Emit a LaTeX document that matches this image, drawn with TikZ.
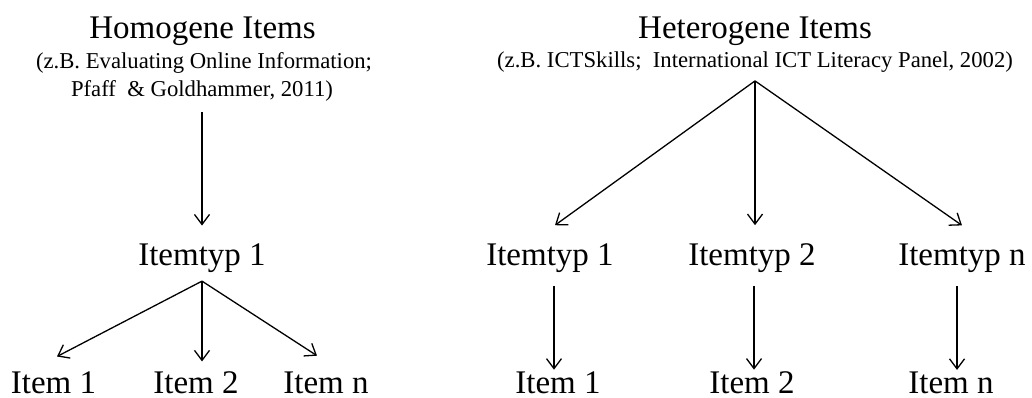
\documentclass[tikz,border=0pt]{standalone}
\usepackage{fontspec}
\setmainfont{Liberation Serif}
\usetikzlibrary{arrows.meta}
\tikzset{
  big/.style={inner sep=0pt, outer sep=0pt, anchor=base, font=\fontsize{33}{38}\selectfont},
  small/.style={inner sep=0pt, outer sep=0pt, anchor=base, font=\fontsize{22.7}{26}\selectfont},
  arr/.style={line width=1.3pt, -{Straight Barb[length=10pt,width=15pt,line width=1.3pt]}},
}
\begin{document}
\begin{tikzpicture}[x=1pt,y=-1pt]
\useasboundingbox (0,0) rectangle (1032,398);
% Homogene side
\node[big]   (htitle) at (202.5,39) {Homogene Items};
\node[small] (hsub1)  at (204,69)   {(z.B. Evaluating Online Information;};
\node[small] (hsub2)  at (202,97)   {Pfaff\ \ \& Goldhammer, 2011)};
\node[big]   (ht1)    at (202,265)  {Itemtyp 1};
\node[big]   (hi1)    at (53.5,393) {Item 1};
\node[big]   (hi2)    at (196,393)  {Item 2};
\node[big]   (hin)    at (326,393)  {Item n};
\coordinate (hapex) at ([yshift=-9pt]ht1.south);
\draw[arr] ([yshift=-10pt]hsub2.south) -- ([yshift=17.7pt]ht1.north);
\draw[arr] (hapex) -- ([xshift=3.5pt,yshift=14.7pt]hi1.north);
\draw[arr] (hapex) -- ([xshift=6pt,yshift=9.7pt]hi2.north);
\draw[arr] (hapex) -- ([xshift=-9pt,yshift=15.7pt]hin.north);
% Heterogene side
\node[big]   (etitle) at (755,39)   {Heterogene Items};
\node[small] (esub)   at (755,68)   {(z.B. ICTSkills;\ \ International ICT Literacy Panel, 2002)};
\node[big]   (et1)    at (550,265)  {Itemtyp 1};
\node[big]   (et2)    at (752,265)  {Itemtyp 2};
\node[big]   (etn)    at (962,265)  {Itemtyp n};
\node[big]   (ei1)    at (558,393)  {Item 1};
\node[big]   (ei2)    at (752,393)  {Item 2};
\node[big]   (ein)    at (951,393)  {Item n};
\coordinate (eapex) at ([yshift=-8pt]esub.south);
\draw[arr] (eapex) -- ([xshift=5pt,yshift=18pt]et1.north);
\draw[arr] (eapex) -- ([xshift=3pt,yshift=18pt]et2.north);
\draw[arr] (eapex) -- ([xshift=0pt,yshift=18pt]etn.north);
\draw[arr] ([xshift=4pt,yshift=-14pt]et1.south) -- ([xshift=-4pt,yshift=1.5pt]ei1.north);
\draw[arr] ([xshift=2pt,yshift=-14pt]et2.south) -- ([xshift=2pt,yshift=1.5pt]ei2.north);
\draw[arr] ([xshift=-5pt,yshift=-14pt]etn.south) -- ([xshift=6pt,yshift=1.5pt]ein.north);
\end{tikzpicture}
\end{document}
